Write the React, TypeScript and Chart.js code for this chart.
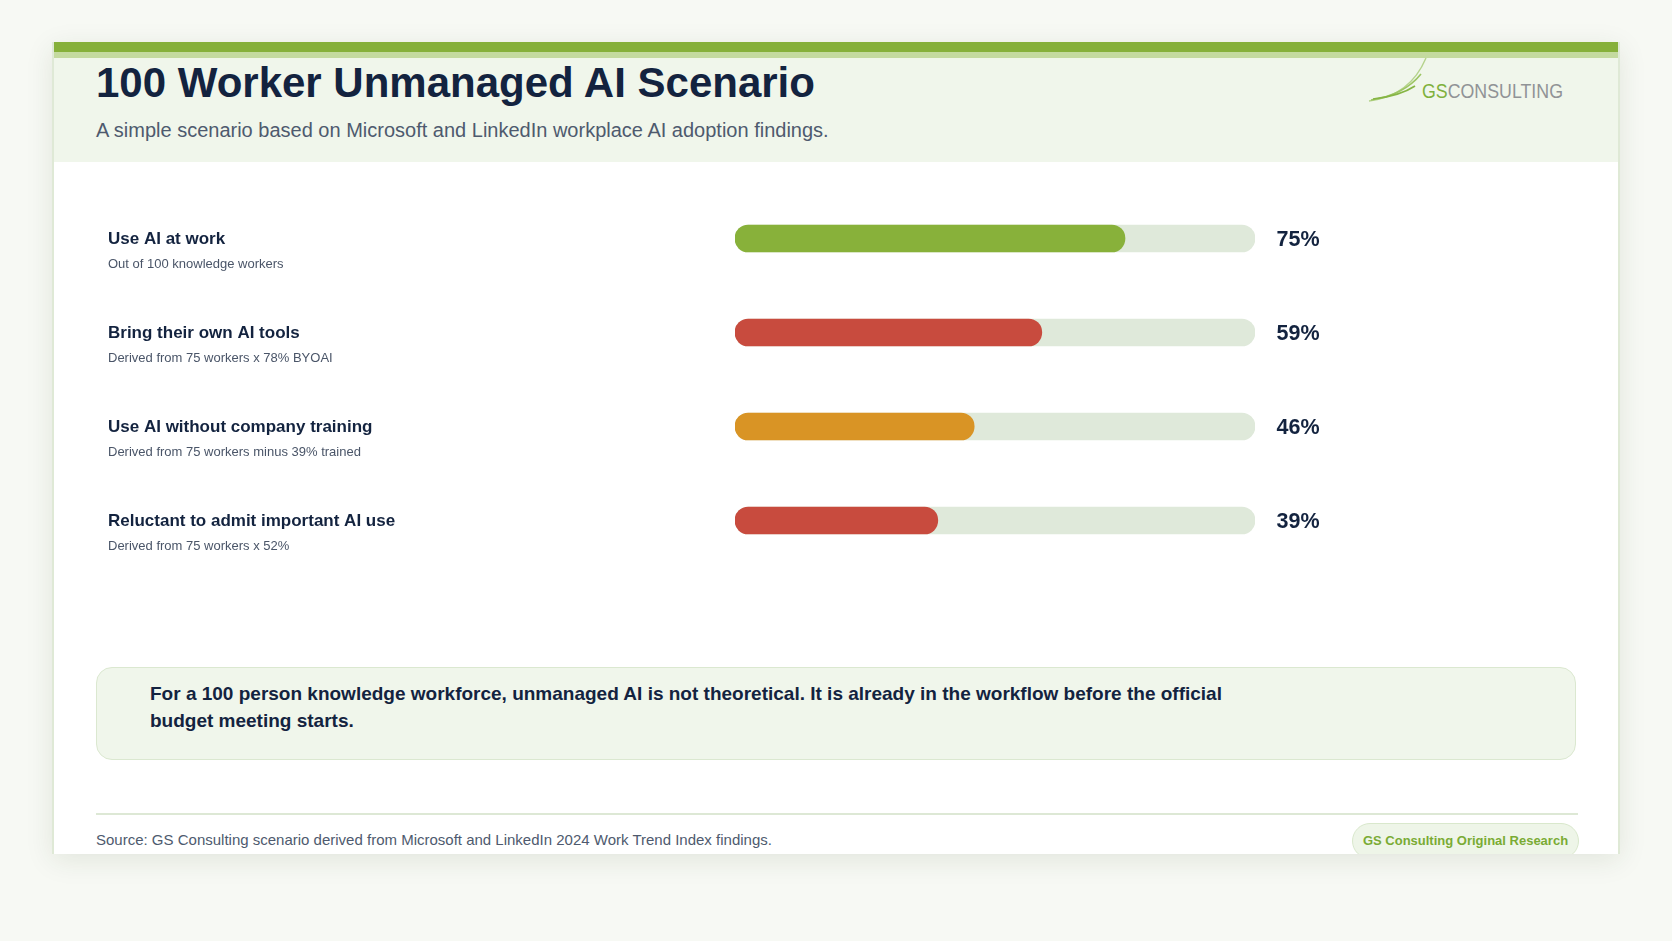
import React, { useEffect, useRef } from "react";
import { Chart, registerables } from "chart.js";

Chart.register(...registerables);

const categories = [
  "Use AI at work",
  "Bring their own AI tools",
  "Use AI without company training",
  "Reluctant to admit important AI use",
];
const notes = [
  "Out of 100 knowledge workers",
  "Derived from 75 workers x 78% BYOAI",
  "Derived from 75 workers minus 39% trained",
  "Derived from 75 workers x 52%",
];
const values = [75, 59, 46, 39];
const valueLabels = ["75%", "59%", "46%", "39%"];
const trackValues = [100, 100, 100, 100];
const barColors = ["#88b13a", "#c84b3e", "#d99425", "#c84b3e"];

const FONT = "'Liberation Sans', Arial, Helvetica, sans-serif";
const NAVY = "#13233f";

const rowTextPlugin = {
  id: "rowText",
  afterDatasetsDraw(chart: any) {
    const { ctx, chartArea, scales } = chart;
    const yScale = scales.y;
    ctx.save();
    ctx.textAlign = "left";
    ctx.textBaseline = "alphabetic";
    categories.forEach((c, i) => {
      const cy = yScale.getPixelForValue(i);
      ctx.fillStyle = NAVY;
      ctx.font = `bold 17px ${FONT}`;
      ctx.fillText(c, 56, cy + 5.5);
      ctx.fillStyle = "#4a5568";
      ctx.font = `13px ${FONT}`;
      ctx.fillText(notes[i], 56, cy + 29.5);
      ctx.fillStyle = NAVY;
      ctx.font = `bold 21.5px ${FONT}`;
      ctx.fillText(valueLabels[i], chartArea.right + 21.5, cy + 7.5);
    });
    ctx.restore();
  },
};

function BarsChart() {
  const ref = useRef<HTMLCanvasElement | null>(null);
  useEffect(() => {
    if (!ref.current) return;
    const chart = new Chart(ref.current, {
      type: "bar",
      data: {
        labels: categories,
        datasets: [
          {
            label: "Share",
            data: values,
            backgroundColor: barColors,
            borderRadius: 14,
            borderSkipped: false,
            barThickness: 27,
            grouped: false,
            order: 0,
          } as any,
          {
            label: "Track",
            data: trackValues,
            backgroundColor: "#dfe9da",
            borderRadius: 14,
            borderSkipped: false,
            barThickness: 27,
            grouped: false,
            order: 1,
          } as any,
        ],
      },
      options: {
        indexAxis: "y",
        responsive: false,
        animation: false,
        devicePixelRatio: 1,
        layout: { padding: { left: 683, right: 365, top: 19.5, bottom: 24.5 } },
        scales: {
          x: { display: false, min: 0, max: 100 },
          y: { display: false, offset: true },
        },
        plugins: {
          legend: { display: false },
          tooltip: { enabled: false },
        },
      } as any,
      plugins: [rowTextPlugin],
    });
    return () => chart.destroy();
  }, []);
  return (
    <canvas
      ref={ref}
      width={1568}
      height={420}
      style={{ position: "absolute", left: 0, top: 130, width: 1568, height: 420 }}
    />
  );
}

function Logo() {
  return (
    <svg
      width={220}
      height={60}
      viewBox="1360 50 220 60"
      style={{ position: "absolute", left: 1308, top: 8 }}
    >
      <path d="M1367,101 Q1408,96 1424,58" stroke="#b5d38c" strokeWidth={1.4} fill="none" />
      <path d="M1369,100 Q1402,95 1419,74" stroke="#9cc563" strokeWidth={1.6} fill="none" />
      <path d="M1371,99 Q1398,96 1413,86" stroke="#86b544" strokeWidth={1.7} fill="none" />
      <text
        x={1420}
        y={98}
        fontFamily={FONT}
        fontSize={20.5}
        textLength={141}
        lengthAdjust="spacingAndGlyphs"
      >
        <tspan fill="#7fb13c">GS</tspan>
        <tspan fill="#909396">CONSULTING</tspan>
      </text>
    </svg>
  );
}

export default function App() {
  return (
    <div
      style={{
        position: "absolute",
        left: 0,
        top: 0,
        width: 1672,
        height: 941,
        background: "#f7f9f4",
        fontFamily: FONT,
        overflow: "hidden",
      }}
    >
      <div
        style={{
          position: "absolute",
          left: 52,
          top: 42,
          width: 1568,
          height: 812,
          background: "#ffffff",
          overflow: "hidden",
          boxSizing: "border-box",
          borderLeft: "2px solid #dfe9d6",
          borderRight: "2px solid #dfe9d6",
          boxShadow: "0 6px 26px rgba(40,60,20,0.10)",
        }}
      >
        <div style={{ position: "absolute", left: -2, top: 0, width: 1568, height: 10, background: "#86b03a" }} />
        <div style={{ position: "absolute", left: -2, top: 10, width: 1568, height: 6, background: "#c4da9f" }} />
        <div style={{ position: "absolute", left: -2, top: 16, width: 1568, height: 104, background: "#f0f6eb" }} />
        <div
          style={{
            position: "absolute",
            left: 42,
            top: 20.4,
            fontSize: 42,
            lineHeight: "42px",
            fontWeight: 700,
            color: NAVY,
            whiteSpace: "nowrap",
          }}
        >
          100 Worker Unmanaged AI Scenario
        </div>
        <div
          style={{
            position: "absolute",
            left: 42,
            top: 78.1,
            fontSize: 20,
            lineHeight: "20px",
            color: "#4e5a6e",
            whiteSpace: "nowrap",
          }}
        >
          A simple scenario based on Microsoft and LinkedIn workplace AI adoption findings.
        </div>
        <Logo />
        <div style={{ position: "absolute", left: -2, top: 0, width: 1568, height: 812 }}>
          <BarsChart />
        </div>
        <div
          style={{
            position: "absolute",
            left: 42,
            top: 625,
            width: 1480,
            height: 93,
            boxSizing: "border-box",
            background: "#f0f6eb",
            border: "1px solid #dbe8d0",
            borderRadius: 16,
            padding: "11.9px 0 0 53px",
          }}
        >
          <div style={{ width: 1090, fontSize: 19, lineHeight: "27px", fontWeight: 700, color: NAVY }}>
            For a 100 person knowledge workforce, unmanaged AI is not theoretical. It is already in the workflow before the official budget meeting starts.
          </div>
        </div>
        <div style={{ position: "absolute", left: 42, top: 771, width: 1482, height: 2, background: "#dde8d5" }} />
        <div
          style={{
            position: "absolute",
            left: 42,
            top: 790.3,
            fontSize: 15,
            lineHeight: "15px",
            color: "#4e5a6e",
            whiteSpace: "nowrap",
          }}
        >
          Source: GS Consulting scenario derived from Microsoft and LinkedIn 2024 Work Trend Index findings.
        </div>
        <div
          style={{
            position: "absolute",
            left: 1298,
            top: 781,
            width: 227,
            height: 36,
            boxSizing: "border-box",
            background: "#eef5e8",
            border: "1px solid #d9e8cc",
            borderRadius: 18,
            fontSize: 13,
            lineHeight: "34px",
            fontWeight: 700,
            color: "#7aab34",
            textAlign: "center",
            whiteSpace: "nowrap",
          }}
        >
          GS Consulting Original Research
        </div>
      </div>
    </div>
  );
}
